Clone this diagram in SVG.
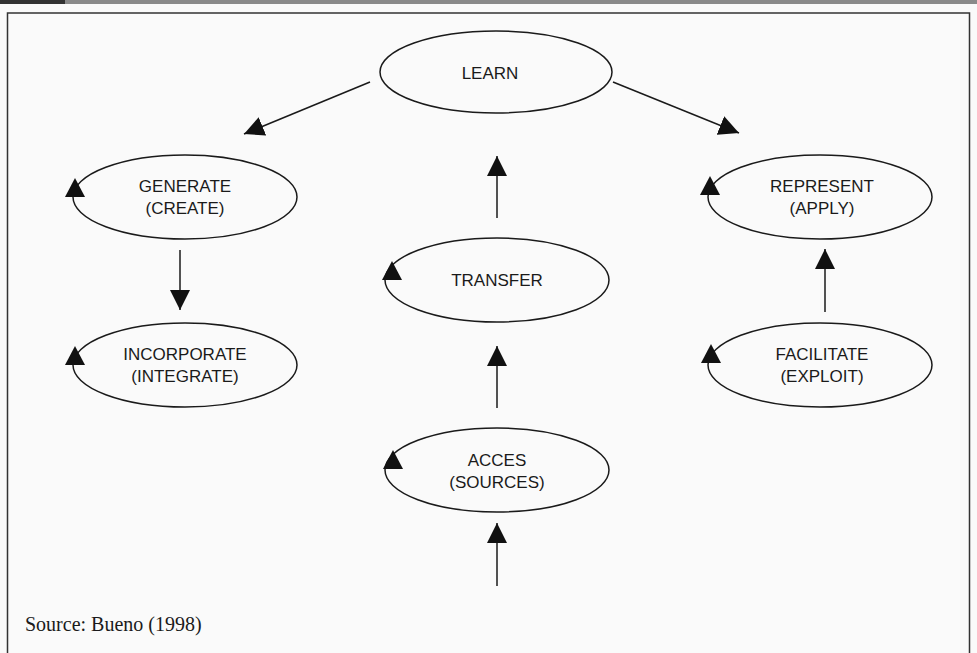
<svg xmlns="http://www.w3.org/2000/svg" width="977" height="653" viewBox="0 0 977 653">
<style>
.node ellipse{fill:none;stroke:#1a1a1a;stroke-width:1.5}
.node text{font-family:"Liberation Sans",Arial,sans-serif;font-size:17px;fill:#1a1a1a;text-anchor:middle}
.tri{fill:#111}
.conn line{stroke:#1a1a1a;stroke-width:1.5;marker-end:url(#arr)}
.src{font-family:"Liberation Serif","Times New Roman",serif;font-size:20px;fill:#1a1a1a}
</style>
<defs>
<marker id="arr" viewBox="0 0 20 20" markerWidth="20" markerHeight="20" refX="20" refY="10" orient="auto" markerUnits="userSpaceOnUse">
<path d="M0,0 L20,10 L0,20 Z" fill="#111"/>
</marker>
<path id="tri" class="tri" d="M0,-19 L10,0 L-10,0 Z"/>
</defs>
<rect x="0" y="0" width="977" height="653" fill="#fafafa"/>
<rect x="0" y="0" width="977" height="4" fill="#8a8a8a"/>
<rect x="0" y="0" width="65" height="4" fill="#333"/>
<path d="M7.5,653 V13 H969.5 V653" fill="none" stroke="#333" stroke-width="1.5"/>
<g id="learn" class="node"><ellipse cx="496" cy="72" rx="116" ry="41"/><text x="490" y="79">LEARN</text></g>
<g id="generate" class="node"><ellipse cx="185" cy="197" rx="112" ry="42"/><use href="#tri" x="75" y="197"/><text x="185" y="192">GENERATE</text><text x="185" y="214">(CREATE)</text></g>
<g id="incorporate" class="node"><ellipse cx="185" cy="365" rx="112" ry="42"/><use href="#tri" x="75" y="365"/><text x="185" y="360">INCORPORATE</text><text x="185" y="382">(INTEGRATE)</text></g>
<g id="transfer" class="node"><ellipse cx="497" cy="280" rx="112" ry="42"/><use href="#tri" x="392" y="280"/><text x="497" y="286">TRANSFER</text></g>
<g id="acces" class="node"><ellipse cx="497" cy="470" rx="112" ry="42"/><use href="#tri" x="393" y="469"/><text x="497" y="466">ACCES</text><text x="497" y="488">(SOURCES)</text></g>
<g id="represent" class="node"><ellipse cx="820" cy="197" rx="112" ry="42"/><use href="#tri" x="710" y="195"/><text x="822" y="192">REPRESENT</text><text x="822" y="214">(APPLY)</text></g>
<g id="facilitate" class="node"><ellipse cx="820" cy="365" rx="112" ry="42"/><use href="#tri" x="711" y="363"/><text x="822" y="360">FACILITATE</text><text x="822" y="382">(EXPLOIT)</text></g>
<g id="connectors" class="conn">
<line x1="370" y1="82" x2="244" y2="134"/>
<line x1="613" y1="82" x2="739" y2="133"/>
<line x1="497" y1="218" x2="497" y2="156"/>
<line x1="180" y1="250" x2="180" y2="310"/>
<line x1="497" y1="408" x2="497" y2="346"/>
<line x1="825" y1="312" x2="825" y2="249"/>
<line x1="497" y1="586" x2="497" y2="523"/>
</g>
<text class="src" x="25" y="631">Source: Bueno (1998)</text>
</svg>
